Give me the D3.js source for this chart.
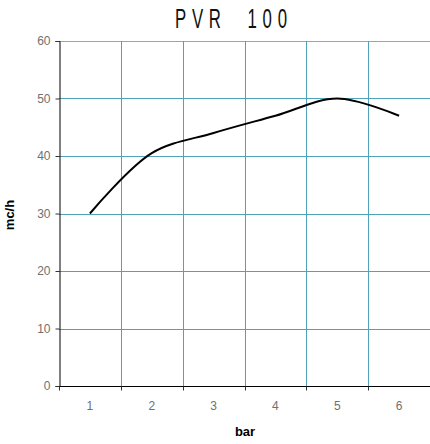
<!DOCTYPE html>
<html><head><meta charset="utf-8">
<script src="https://cdn.jsdelivr.net/npm/d3@7"></script>
<style>
html,body{margin:0;padding:0;background:#fff;}
svg{display:block;}
</style></head>
<body>
<svg id="c" width="430" height="444"></svg>
<script>
const title = "PVR  100";
const categories = ["1","2","3","4","5","6"];
const values = [30, 40.5, 44, 47, 50, 47];
const yTicks = [0,10,20,30,40,50,60];
const xTitle = "bar";
const yTitle = "mc/h";

const svg = d3.select("#c");
const m = {left:59, right:430, top:41, bottom:386};

const x = d3.scaleBand().domain(categories).range([m.left, m.right]);
const y = d3.scaleLinear().domain([0,60]).range([m.bottom, m.top]);

const grid = "#4fa3bb";
// horizontal gridlines
svg.append("g").selectAll("line").data(yTicks.filter(d=>d>0)).join("line")
  .attr("x1", m.left).attr("x2", m.right)
  .attr("y1", d=>Math.round(y(d))+0.5).attr("y2", d=>Math.round(y(d))+0.5)
  .attr("stroke", d=> d===60 ? "#8fa9b3" : grid).attr("stroke-width",1);
// vertical gridlines at category boundaries
svg.append("g").selectAll("line").data(categories.slice(1)).join("line")
  .attr("x1", d=>Math.round(x(d))+0.5).attr("x2", d=>Math.round(x(d))+0.5)
  .attr("y1", m.top).attr("y2", m.bottom)
  .attr("stroke", grid).attr("stroke-width",1);

// y axis
const yAxis = d3.axisLeft(y).tickValues(yTicks).tickSize(4).tickPadding(5);
const gy = svg.append("g").attr("transform",`translate(${m.left+0.5},0)`).call(yAxis);
gy.select(".domain").attr("stroke","#000");
gy.selectAll(".tick line").attr("stroke","#333");
gy.selectAll(".tick text").attr("fill","#707070").style("font-family","Liberation Sans, Arial, sans-serif").style("font-size","12px");

// x axis
const xAxis = d3.axisBottom(x).tickSize(0).tickPadding(15);
const gx = svg.append("g").attr("transform",`translate(0,${m.bottom+0.5})`).call(xAxis);
gx.select(".domain").remove();
gx.append("line").attr("x1",m.left).attr("x2",m.right).attr("stroke","#000");
gx.selectAll(".tick text").attr("fill","#707070").style("font-family","Liberation Sans, Arial, sans-serif").style("font-size","12px");
// boundary ticks
gx.append("g").selectAll("line").data(categories).join("line")
  .attr("x1", d=>Math.round(x(d))+0.5).attr("x2", d=>Math.round(x(d))+0.5)
  .attr("y1",0).attr("y2",4).attr("stroke","#333");

// line
const line = d3.line()
  .x((d,i)=>x(categories[i]) + x.bandwidth()/2)
  .y(d=>y(d))
  .curve(d3.curveCatmullRom.alpha(0.5));
svg.append("path").datum(values).attr("d", line)
  .attr("fill","none").attr("stroke","#000").attr("stroke-width",2);

// titles
const sx = 0.6;
svg.append("g").attr("transform",`translate(175,28) scale(${sx},1)`)
  .append("text").attr("x",0).attr("y",0)
  .attr("textLength",112/sx).attr("lengthAdjust","spacing")
  .style("white-space","pre")
  .style("font-family","Liberation Sans, Arial, sans-serif")
  .style("font-size","28px").attr("fill","#111").text(title);
svg.append("text").attr("x",245).attr("y",436).attr("text-anchor","middle")
  .style("font-family","Liberation Sans, Arial, sans-serif").style("font-weight","bold")
  .style("font-size","13px").attr("fill","#000").text(xTitle);
svg.append("text").attr("transform","translate(14,215) rotate(-90)").attr("text-anchor","middle")
  .style("font-family","Liberation Sans, Arial, sans-serif").style("font-weight","bold")
  .style("font-size","13px").attr("fill","#000").text(yTitle);
</script>
</body></html>
